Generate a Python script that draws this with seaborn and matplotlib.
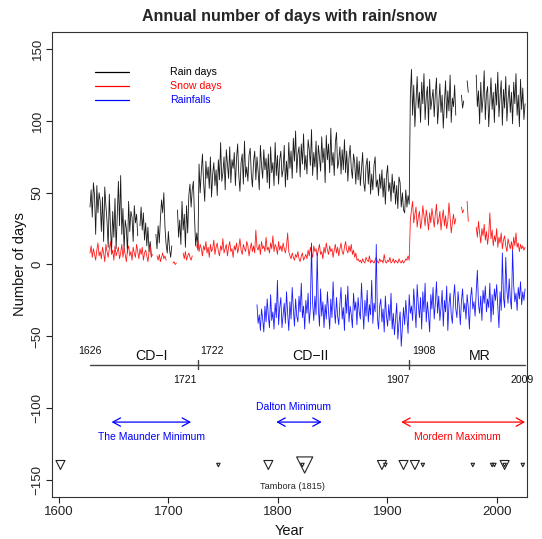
import numpy as np
import pandas as pd
import matplotlib
matplotlib.use("Agg")
import matplotlib.pyplot as plt
import seaborn as sns

nan = np.nan

# ---------------- data ----------------
rain_start = 1626
rain_days = [
    40, 52, 33, 57, 48, 21, 55, 36, 50, 44,
    23, 47, 16, 54, 41, 30, 12, 49, 26, 9,
    37, 19, 46, 11, 34, 58, 27, 62, 21, 39,
    10, 31, 25, 8, 44, 23, 37, 33, 16, 41,
    29, 35, 20, nan, 27, 40, 24, 36, 17, 29,
    13, 26, 9, 16, 6, nan, nan, nan, 21, 11,
    27, 15, 32, 45, 36, 50, 26, 14, 8, 23,
    11, 5, 13, nan, nan, nan, nan, 38, 19, 31,
    14, 44, 24, 35, 12, 41, 22, 48, 56, 40,
    52, 58, 33, 13, 22, 10, 70, 50, 65, 77,
    57, 44, 72, 60, 68, 53, 75, 47, 63, 71,
    55, 66, 48, 73, 59, 85, 58, 64, 75, 52,
    80, 70, 60, 82, 57, 73, 67, 78, 55, 74,
    84, 62, 51, 71, 77, 56, 86, 61, 68, 58,
    76, 81, 63, 54, 72, 79, 59, 75, 65, 52,
    83, 69, 60, 80, 66, 74, 57, 77, 53, 82,
    64, 71, 55, 85, 62, 76, 56, 73, 79, 61,
    66, 83, 54, 72, 59, 85, 67, 79, 60, 88,
    72, 93, 64, 77, 82, 61, 84, 70, 91, 66,
    76, 63, 87, 80, 69, 94, 62, 78, 68, 86,
    59, 83, 75, 65, 89, 71, 81, 57, 90, 73,
    84, 64, 95, 69, 78, 62, 85, 92, 67, 72,
    82, 63, 80, 66, 87, 64, 79, 58, 74, 83,
    67, 60, 77, 71, 56, 75, 59, 72, 55, 66,
    78, 57, 51, 69, 74, 56, 72, 49, 63, 52,
    69, 75, 54, 59, 48, 63, 53, 66, 47, 60,
    42, 62, 69, 51, 57, 44, 63, 50, 58, 42,
    55, 39, 61, 57, 40, 50, 38, 36, 52, 40,
    48, 42, 118, 136, 104, 125, 96, 114, 131, 109,
    120, 99, 127, 112, 133, 101, 117, 124, 97, 129,
    108, 115, 122, 103, 119, 130, 98, 111, 126, 106,
    118, 95, 113, 128, 102, 121, 107, 132, 99, 116,
    110, 125, 104, nan, nan, nan, nan, 118, 109, 114,
    nan, nan, 128, 120, nan, nan, nan, nan, nan, nan,
    132, 110, 121, 98, 127, 106, 116, 135, 101, 119,
    124, 96, 113, 130, 108, 120, 99, 126, 111, 134,
    103, 117, 128, 97, 122, 109, 131, 100, 115, 125,
    106, 120, 98, 127, 112, 133, 104, 118, 96, 129,
    108, 123, 101, 112,
]

snow_start = 1626
snow_days = [
    8, 13, 5, 11, 7, 3, 10, 15, 6, 9,
    4, 12, 8, 2, 14, 9, 5, 11, 16, 7,
    10, 3, 13, 6, 9, 12, 4, 8, 14, 5,
    11, 7, 2, 10, 13, 6, 9, 3, 12, 8,
    5, 14, 9, 4, 11, 7, 12, 3, 8, 10,
    6, 2, 9, 13, 5, 7, nan, nan, nan, 6,
    3, 7, 2, 5, 8, 4, 6, 3, nan, nan,
    nan, nan, nan, 1, 2, 0, 1, nan, nan, nan,
    nan, nan, 8, 4, 9, 3, 6, 8, 5, 3,
    6, nan, nan, nan, 12, 17, 9, 14, 11, 6,
    13, 10, 16, 8, 12, 5, 14, 9, 11, 17,
    7, 12, 15, 9, 6, 13, 10, 18, 8, 11,
    14, 6, 12, 16, 9, 11, 5, 13, 10, 15,
    8, 12, 18, 10, 7, 14, 11, 9, 16, 13,
    6, 11, 15, 9, 13, 8, 24, 12, 10, 14,
    7, 16, 11, 13, 9, 19, 10, 12, 8, 15,
    11, 20, 9, 14, 12, 7, 16, 10, 13, 9,
    15, 11, 8, 13, 22, 9, 6, 4, 8, 5,
    3, 7, 5, 9, 4, 2, 6, 8, 3, 5,
    7, 4, 10, 6, 12, 8, 5, 13, 9, 11,
    6, 10, 14, 7, 9, 4, 12, 8, 15, 10,
    7, 13, 9, 11, 5, 10, 14, 8, 12, 6,
    11, 15, 9, 7, 12, 16, 10, 8, 13, 9,
    14, 7, 10, 5, 8, 3, 4, 2, 3, 1,
    4, 2, 1, 5, 3, 2, 6, 1, 3, 2,
    1, 3, 5, 2, 1, 4, 2, 3, 1, 7,
    2, 1, 3, 2, 5, 1, 2, 4, 1, 3,
    2, 1, 4, 2, 1, 3, 1, 2, 4, 3,
    6, 3, 31, 38, 44, 29, 35, 40, 26, 33,
    37, 25, 30, 41, 34, 27, 38, 32, 24, 36,
    29, 39, 33, 26, 35, 42, 28, 31, 37, 24,
    32, 38, 27, 34, 25, 30, 43, 33, 22, 29,
    35, 28, 32, nan, nan, nan, nan, 40, 36, 38,
    nan, nan, 44, 30, nan, nan, nan, nan, nan, nan,
    26, 19, 30, 22, 15, 25, 20, 28, 17, 23,
    14, 21, 36, 18, 24, 13, 20, 16, 25, 12,
    19, 15, 22, 11, 17, 20, 13, 9, 18, 14,
    11, 16, 10, 19, 13, 22, 12, 15, 9, 14,
    11, 13, 10, 12,
]

rainfall_start = 1773
rainfalls = [
    -28, -41, -35, -46, -31, -38, -47, -29, -40, -24,
    -36, -44, -21, -39, -33, -45, -27, -37, -11, -42,
    -30, -23, -44, -35, -27, -41, -19, -34, -46, -26,
    -38, -16, -31, -43, -24, -36, -40, -22, -33, -13,
    -37, -29, -45, -25, -34, -20, -41, -31, 15, -27,
    -39, -22, -35, 8, -30, -43, -17, -36, -26, -44,
    -28, -38, -19, -33, -45, -24, -37, -12, -31, -41,
    -23, -36, -42, -27, -16, -38, -30, -46, -21, -34,
    -15, -40, -29, -35, -44, -20, -32, -26, -42, -23,
    -33, -38, -13, -30, -45, -25, -36, -18, -40, -28,
    -35, -11, -41, -27, -33, 14, -37, -45, -29, -24,
    -40, -31, -47, -22, -36, -43, -28, -39, -20, -45,
    -34, -49, -38, -27, -52, -41, -33, -57, -44, -30,
    -42, -25, -37, -48, -21, -34, -29, -39, -17, -31,
    -44, -14, -28, -37, -23, -45, -19, -33, -13, -40,
    -26, -35, -47, -21, -31, -16, -38, -27, -12, -34,
    -22, -39, -30, -18, -43, -25, -33, -15, -46, -28,
    -20, -35, -41, -24, -14, -31, -37, -19, -29, -42,
    -25, -17, -33, -27, -38, -21, -30, -45, -23, -16,
    -31, -26, -36, -19, -4, -28, -34, -22, -39, -18,
    -27, -15, -33, -24, -30, -13, -40, -21, -35, -17,
    -25, -14, -29, -44, -19, -32, 8, -23, -30, 5,
    -18, -27, -10, -24, -31, 10, -15, -26, -20, -32,
    -16, -24, -12, -28, -19, -25, -17,
]

series_names = ["Rain days", "Snow days", "Rainfalls"]
series_colors = ["black", "red", "blue"]

period_bounds = [1626, 1721, 1722, 1907, 1908, 2009]
period_names = ["CD\u2212I", "CD\u2212II", "MR"]

solar_names = ["The Maunder Minimum", "Dalton Minimum", "Mordern Maximum"]
solar_start = [1645, 1790, 1900]
solar_end = [1715, 1830, 2009]
solar_colors = ["blue", "blue", "red"]

volcano_years = [1600, 1739, 1783, 1813, 1815, 1883, 1886, 1902, 1912, 1919,
                 1963, 1980, 1982, 1991, 1991, 2007]
volcano_vei = [6, 5, 6, 5, 7, 6, 5, 6, 6, 5, 5, 5, 5, 6, 5, 5]

x_ticks = [1600, 1700, 1800, 1900, 2000]
y_ticks = [-150, -100, -50, 0, 50, 100, 150]

# ---------------- style ----------------
sns.set_style("white")
plt.rcParams["font.family"] = ["Liberation Sans", "DejaVu Sans"]
plt.rcParams["axes.unicode_minus"] = True


def frame(values, start, name):
    v = np.array(values, dtype=float)
    yrs = start + np.arange(len(v))
    seg = np.cumsum(np.isnan(v))
    d = pd.DataFrame({"year": yrs, "value": v, "series": name, "seg": seg})
    return d.dropna()


df = pd.concat([
    frame(rain_days, rain_start, series_names[0]),
    frame(snow_days, snow_start, series_names[1]),
    frame(rainfalls, rainfall_start, series_names[2]),
], ignore_index=True)

W, H = 542, 539
fig = plt.figure(figsize=(W / 100, H / 100), dpi=100)
L, R, T, B = 52, 527, 32, 497
ax = fig.add_axes([L / W, 1 - B / H, (R - L) / W, (B - T) / H])
ax.set_xlim(1592.55, 2010.7)
ax.set_ylim(-162, 162)

palette = {"Rain days": "#1a1a1a", "Snow days": "#ff1a1a", "Rainfalls": "#1a1aff"}
sns.lineplot(data=df, x="year", y="value", hue="series", units="seg",
             estimator=None, palette=palette, hue_order=series_names,
             legend=False, linewidth=0.6, sort=False, ax=ax)

# volcanoes
vdf = pd.DataFrame({"year": volcano_years, "vei": volcano_vei})
vdf = vdf.sort_values("vei", ascending=False, kind="stable")
vdf["y"] = -139.7
sns.scatterplot(data=vdf, x="year", y="y", size="vei",
                sizes={5: 6, 6: 42, 7: 135}, marker="v", color="white",
                edgecolor="#222222", linewidth=0.8, legend=False, ax=ax)
ax.text(1804, -154.5, "Tambora (1815)", ha="center", va="center",
        fontsize=6.6, color="#222222")

# period bar
ax.plot([period_bounds[0], period_bounds[-1]], [-69.8, -69.8],
        color="#444444", lw=1.0)
for xb in (period_bounds[1], period_bounds[3]):
    ax.plot([xb, xb], [-66.6, -72.8], color="#444444", lw=1.0)
lab_kw = dict(fontsize=7.6, color="#111111", va="center")
ax.text(period_bounds[0], -60.6, str(period_bounds[0]), ha="center", **lab_kw)
ax.text(period_bounds[2] + 1, -60.6, str(period_bounds[2]), ha="left", **lab_kw)
ax.text(period_bounds[4] + 2, -60.6, str(period_bounds[4]), ha="left", **lab_kw)
ax.text(period_bounds[1] - 1, -80.5, str(period_bounds[1]), ha="right", **lab_kw)
ax.text(period_bounds[3], -80.5, str(period_bounds[3]), ha="right", **lab_kw)
ax.text(period_bounds[5] - 3, -80.5, str(period_bounds[5]), ha="center", **lab_kw)
for name, xc in zip(period_names, [1680, 1820, 1969]):
    ax.text(xc, -63.8, name, ha="center", va="center", fontsize=10.2,
            color="#111111")

# solar activity arrows
for i, (name, s, e, c) in enumerate(zip(solar_names, solar_start, solar_end,
                                        solar_colors)):
    ax.annotate("", xy=(s, -109.8), xytext=(e, -109.8),
                arrowprops=dict(arrowstyle="<->,head_length=0.55,head_width=0.3",
                                color=c, lw=0.9, shrinkA=0, shrinkB=0,
                                mutation_scale=10))
    ty = -99.5 if i == 1 else -120.0
    xc = (s + e) / 2 - (5 if i > 0 else 0)
    ax.text(xc, ty, name, ha="center", va="center", fontsize=7.5, color=c)

# legend (R style, no box)
for i, (name, c) in enumerate(zip(series_names, series_colors)):
    yy = 1 - (71.7 + 14.2 * i - T) / (B - T)
    ax.plot([(95 - L) / (R - L), (129 - L) / (R - L)], [yy, yy],
            color=c, lw=0.9, transform=ax.transAxes)
    ax.text((170 - L) / (R - L), yy, name, color=c, fontsize=7.6,
            ha="left", va="center", transform=ax.transAxes)

# axes styling
for sp in ax.spines.values():
    sp.set_color("#333333")
    sp.set_linewidth(0.8)
ax.set_xticks([])
ax.set_xlabel("")
ax.set_yticks(y_ticks)
ax.set_yticklabels([str(v).replace("-", "\u2212") for v in y_ticks])
ax.tick_params(axis="y", direction="out", length=4, width=0.8, pad=2,
               labelsize=9.5, colors="#222222", left=True)
for lbl in ax.get_yticklabels():
    lbl.set_rotation(90)
    lbl.set_va("center")
ax.set_ylabel("Number of days", fontsize=10.5, color="#111111")
ax.yaxis.set_label_coords(-0.052, 0.5)

ax2 = ax.twiny()
ax2.set_xlim(1593.6, 2027.7)
ax2.xaxis.set_ticks_position("bottom")
ax2.xaxis.set_label_position("bottom")
ax2.set_xticks(x_ticks)
ax2.set_xticklabels([str(v) for v in x_ticks])
ax2.tick_params(axis="x", direction="out", length=4, width=0.8, pad=2.5,
                labelsize=9.5, colors="#222222", bottom=True, top=False)
for sp in ax2.spines.values():
    sp.set_visible(False)
ax2.set_xlabel("Year", fontsize=10.5, color="#111111")
ax2.xaxis.set_label_coords(0.5, -0.058)

ax.set_title("Annual number of days with rain/snow", fontweight="bold",
             fontsize=11.5, pad=8)

fig.savefig("out.png", dpi=100)
